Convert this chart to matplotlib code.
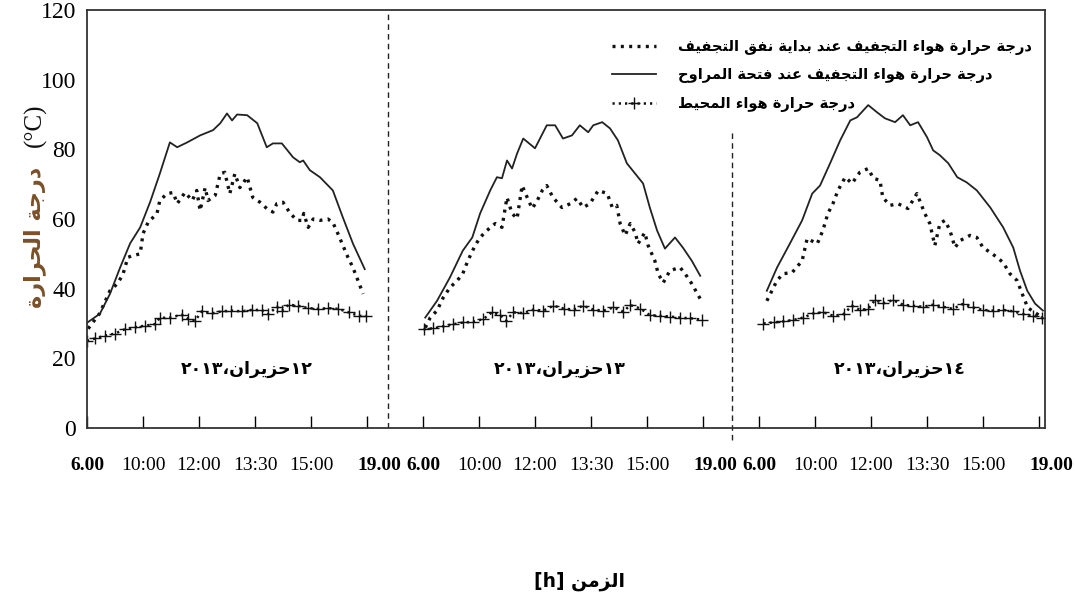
import matplotlib
matplotlib.use("Agg")
import matplotlib.pyplot as plt
import matplotlib.transforms as mtransforms
from matplotlib.font_manager import FontProperties

# ---- простой "решейпер" для арабского текста (matplotlib не соединяет буквы) ----
# буква: (изолированная, конечная, начальная, срединная)
FORMS = {
    'ء': (0xFE80, None, None, None),
    'ا': (0xFE8D, 0xFE8E, None, None),
    'ب': (0xFE8F, 0xFE90, 0xFE91, 0xFE92),
    'ة': (0xFE93, 0xFE94, None, None),
    'ت': (0xFE95, 0xFE96, 0xFE97, 0xFE98),
    'ج': (0xFE9D, 0xFE9E, 0xFE9F, 0xFEA0),
    'ح': (0xFEA1, 0xFEA2, 0xFEA3, 0xFEA4),
    'د': (0xFEA9, 0xFEAA, None, None),
    'ر': (0xFEAD, 0xFEAE, None, None),
    'ز': (0xFEAF, 0xFEB0, None, None),
    'ط': (0xFEC1, 0xFEC2, 0xFEC3, 0xFEC4),
    'ع': (0xFEC9, 0xFECA, 0xFECB, 0xFECC),
    'ف': (0xFED1, 0xFED2, 0xFED3, 0xFED4),
    'ق': (0xFED5, 0xFED6, 0xFED7, 0xFED8),
    'ل': (0xFEDD, 0xFEDE, 0xFEDF, 0xFEE0),
    'م': (0xFEE1, 0xFEE2, 0xFEE3, 0xFEE4),
    'ن': (0xFEE5, 0xFEE6, 0xFEE7, 0xFEE8),
    'ه': (0xFEE9, 0xFEEA, 0xFEEB, 0xFEEC),
    'و': (0xFEED, 0xFEEE, None, None),
    'ي': (0xFEF1, 0xFEF2, 0xFEF3, 0xFEF4),
}


def ar(s):
    out = []
    for i, c in enumerate(s):
        if c not in FORMS:
            out.append(c)
            continue
        f = FORMS[c]
        p = s[i - 1] if i > 0 else ''
        n = s[i + 1] if i + 1 < len(s) else ''
        prev_ok = p in FORMS and FORMS[p][2] is not None and f[1] is not None
        next_ok = n in FORMS and FORMS[n][1] is not None and f[2] is not None
        if prev_ok and next_ok:
            k = 3
        elif prev_ok:
            k = 1
        elif next_ok:
            k = 2
        else:
            k = 0
        out.append(chr(f[k]))
    return ''.join(out)[::-1]


# ---- данные (x — позиция на оси времени, 1 деление = один интервал подписи) ----
time_labels = ["6.00", "10:00", "12:00", "13:30", "15:00", "19.00"]
days = ["١٢", "١٣", "١٤"]

# 12 июня
d12_fan = [(0.0, 30.2), (0.23, 32.8), (0.41, 38.5), (0.59, 46.0), (0.77, 53.0), (0.95, 57.6),
           (1.13, 65.0), (1.30, 73.0), (1.48, 82.0), (1.61, 80.6), (1.79, 82.0), (2.02, 84.0),
           (2.25, 85.5), (2.38, 87.5), (2.50, 90.3), (2.59, 88.3), (2.68, 90.0), (2.86, 89.8),
           (3.04, 87.5), (3.21, 80.6), (3.32, 81.7), (3.48, 81.7), (3.68, 77.7), (3.80, 76.3),
           (3.86, 76.8), (3.98, 74.0), (4.16, 72.0), (4.39, 68.2), (4.57, 60.4), (4.75, 52.9),
           (4.96, 45.6)]
d12_inlet = [(0.02, 28.5), (0.23, 33.0), (0.41, 39.4), (0.54, 41.4), (0.64, 44.0), (0.73, 49.0),
             (0.82, 49.5), (0.95, 50.0), (1.00, 55.8), (1.09, 59.0), (1.25, 61.6), (1.30, 65.3),
             (1.43, 67.3), (1.54, 67.6), (1.61, 64.4), (1.75, 67.6), (1.88, 65.3), (1.96, 68.2),
             (2.02, 62.4), (2.11, 69.0), (2.16, 65.3), (2.29, 66.8), (2.38, 73.0), (2.46, 73.4),
             (2.55, 67.3), (2.64, 73.0), (2.73, 69.0), (2.86, 72.0), (2.96, 66.2), (3.09, 64.8),
             (3.21, 63.0), (3.32, 62.0), (3.39, 64.4), (3.50, 64.8), (3.63, 61.6), (3.75, 59.6),
             (3.84, 59.6), (3.87, 61.6), (3.95, 57.6), (4.04, 60.0), (4.16, 59.6), (4.30, 60.0),
             (4.39, 59.0), (4.48, 55.8), (4.57, 52.4), (4.66, 49.0), (4.75, 46.0), (4.84, 42.3),
             (4.93, 38.5)]
d12_amb = [(0.0, 25.0), (0.14, 25.7), (0.32, 26.5), (0.50, 27.1), (0.68, 28.4), (0.86, 28.9),
           (1.04, 29.4), (1.21, 29.8), (1.30, 31.6), (1.48, 31.7), (1.69, 32.5), (1.81, 31.3),
           (1.93, 30.8), (2.05, 33.5), (2.23, 32.9), (2.41, 33.5), (2.58, 33.7), (2.76, 33.5),
           (2.94, 33.9), (3.12, 33.9), (3.24, 32.7), (3.39, 34.8), (3.48, 33.7), (3.60, 35.4),
           (3.77, 35.1), (3.95, 34.4), (4.13, 34.2), (4.31, 34.4), (4.49, 34.2), (4.67, 33.2),
           (4.85, 32.2), (4.99, 32.2)]

# 13 июня
d13_fan = [(6.04, 31.7), (6.25, 36.5), (6.48, 43.2), (6.71, 50.9), (6.88, 54.7), (7.02, 61.6),
           (7.20, 68.2), (7.32, 72.0), (7.41, 71.7), (7.50, 76.8), (7.59, 74.5), (7.68, 78.8),
           (7.79, 83.1), (8.00, 80.3), (8.21, 86.9), (8.36, 86.9), (8.50, 83.1), (8.66, 84.0),
           (8.80, 86.9), (8.95, 84.9), (9.04, 86.9), (9.20, 87.8), (9.34, 86.0), (9.48, 82.6),
           (9.64, 76.0), (9.79, 73.0), (9.93, 70.2), (10.05, 63.3), (10.18, 56.7), (10.32, 51.5),
           (10.50, 54.7), (10.64, 51.8), (10.80, 48.0), (10.95, 43.7)]
d13_inlet = [(6.04, 28.8), (6.13, 31.7), (6.25, 33.7), (6.36, 37.4), (6.48, 40.3), (6.61, 42.3),
             (6.71, 44.3), (6.80, 48.0), (6.93, 52.4), (7.02, 54.7), (7.14, 56.7), (7.29, 58.7),
             (7.41, 57.6), (7.50, 66.2), (7.59, 61.6), (7.68, 60.1), (7.77, 69.6), (7.86, 66.2),
             (7.95, 63.0), (8.04, 65.3), (8.13, 68.2), (8.21, 69.6), (8.32, 66.2), (8.48, 63.3),
             (8.63, 64.4), (8.75, 65.9), (8.86, 63.3), (8.98, 64.4), (9.13, 68.2), (9.29, 67.3),
             (9.38, 63.3), (9.46, 63.9), (9.52, 58.7), (9.61, 55.3), (9.70, 58.7), (9.79, 56.1),
             (9.84, 52.9), (9.96, 56.1), (10.02, 52.4), (10.14, 48.0), (10.20, 44.3), (10.29, 41.7),
             (10.41, 45.2), (10.59, 46.1), (10.68, 44.3), (10.80, 41.4), (10.95, 37.1)]
d13_amb = [(6.01, 28.4), (6.18, 28.6), (6.36, 29.2), (6.54, 29.8), (6.72, 30.3), (6.90, 30.5),
           (7.08, 31.3), (7.23, 33.2), (7.38, 32.4), (7.49, 30.8), (7.61, 33.2), (7.79, 33.0),
           (7.97, 34.0), (8.15, 33.7), (8.33, 35.1), (8.51, 34.3), (8.69, 34.0), (8.86, 35.1),
           (9.04, 34.0), (9.22, 33.7), (9.40, 34.6), (9.58, 33.4), (9.70, 35.3), (9.88, 34.3),
           (10.05, 32.4), (10.23, 32.2), (10.41, 32.0), (10.59, 31.7), (10.77, 31.5), (10.98, 31.1)]

# 14 июня
d14_fan = [(12.14, 39.4), (12.32, 46.0), (12.55, 52.9), (12.77, 59.6), (12.95, 67.3), (13.09, 69.6),
           (13.27, 76.0), (13.45, 82.6), (13.63, 88.3), (13.75, 89.2), (13.95, 92.7), (14.11, 90.6),
           (14.25, 88.9), (14.43, 87.8), (14.57, 89.8), (14.70, 86.9), (14.84, 87.8), (15.00, 83.5),
           (15.11, 79.7), (15.23, 78.3), (15.38, 76.0), (15.54, 72.0), (15.71, 70.5), (15.89, 68.2),
           (16.13, 63.3), (16.36, 57.6), (16.54, 51.8), (16.66, 45.2), (16.79, 39.4), (16.93, 35.7),
           (17.07, 33.7)]
d14_inlet = [(12.14, 36.5), (12.23, 39.4), (12.32, 42.3), (12.43, 44.3), (12.59, 44.6), (12.77, 48.0),
             (12.86, 54.4), (13.04, 52.9), (13.14, 56.7), (13.23, 61.6), (13.32, 64.4), (13.41, 68.2),
             (13.54, 72.0), (13.66, 70.2), (13.80, 73.4), (13.95, 74.5), (14.04, 71.7), (14.16, 71.1),
             (14.21, 66.2), (14.34, 63.9), (14.48, 64.4), (14.66, 63.0), (14.82, 67.3), (14.96, 61.6),
             (15.05, 58.7), (15.14, 52.4), (15.23, 58.7), (15.32, 59.6), (15.41, 56.7), (15.50, 51.8),
             (15.59, 53.8), (15.77, 55.3), (15.89, 54.7), (16.00, 51.8), (16.13, 50.4), (16.25, 49.0),
             (16.36, 47.5), (16.48, 44.3), (16.61, 42.3), (16.70, 38.5), (16.80, 34.5), (16.96, 32.8),
             (17.07, 31.4)]
d14_amb = [(12.08, 30.0), (12.26, 30.3), (12.43, 30.6), (12.61, 31.0), (12.79, 31.7), (12.97, 32.9),
           (13.15, 33.2), (13.33, 32.2), (13.51, 32.7), (13.66, 35.1), (13.80, 33.9), (13.95, 34.2),
           (14.07, 36.7), (14.22, 35.8), (14.39, 36.7), (14.57, 35.4), (14.75, 35.1), (14.93, 34.8),
           (15.11, 35.4), (15.29, 34.8), (15.46, 34.2), (15.64, 35.6), (15.82, 34.6), (16.00, 33.9),
           (16.18, 33.7), (16.36, 33.9), (16.54, 33.5), (16.72, 32.7), (16.90, 32.2), (17.05, 31.7)]

inlet_series = [d12_inlet, d13_inlet, d14_inlet]
fan_series = [d12_fan, d13_fan, d14_fan]
amb_series = [d12_amb, d13_amb, d14_amb]

leg_inlet = "درجة حرارة هواء التجفيف عند بداية نفق التجفيف"
leg_fan = "درجة حرارة هواء التجفيف عند فتحة المراوح"
leg_amb = "درجة حرارة هواء المحيط"

# ---- рисунок ----
W, H = 1075, 599
fig = plt.figure(figsize=(W / 100, H / 100), dpi=100)
ax = fig.add_axes([87 / W, 1 - 428 / H, (1045 - 87) / W, (428 - 10) / H])

dots = (0, (0.9, 1.6))
h_in = h_fan = h_amb = None
for inl, fan, amb in zip(inlet_series, fan_series, amb_series):
    x, y = zip(*inl)
    h_in, = ax.plot(x, y, color='#111111', lw=2.4, ls=dots)
    x, y = zip(*fan)
    h_fan, = ax.plot(x, y, color='#222222', lw=1.3)
    x, y = zip(*amb)
    h_amb, = ax.plot(x, y, color='#111111', lw=1.8, ls=dots, marker='+', ms=8, mew=1.0)

# разделители дней
ax.axvline(5.375, color='#222222', lw=1.0, ls=(0, (4, 3)))
ax.plot([11.52, 11.52], [84.6, -3.7], color='#222222', lw=1.0, ls=(0, (4, 3)), clip_on=False)

# подписи дат
date_x = [2.86, 8.45, 14.52]
for d, xx in zip(days, date_x):
    ax.text(xx, 17, "٢٠١٣" + "،" + ar("حزيران") + d, ha='center', va='center',
            fontsize=12.5, fontweight='bold', family='DejaVu Sans')

ax.set_xlim(0, 17.107)
ax.set_ylim(0, 120)
ax.set_xticks(range(18))
ax.set_xticklabels(time_labels * 3, family='Liberation Serif', fontsize=14)
ax.set_yticks(range(0, 121, 20))
ax.set_yticklabels([str(v) for v in range(0, 121, 20)], family='Liberation Serif', fontsize=17)
ax.tick_params(axis='x', direction='in', length=9, width=1.0, pad=21, top=False)
ax.tick_params(axis='y', length=0, pad=8)
shift = mtransforms.ScaledTranslation(9 / 72, 0, fig.dpi_scale_trans)
for lab in ax.get_xticklabels():
    if lab.get_text() in ("6.00", "19.00"):
        lab.set_fontweight('bold')
    if lab.get_text() == "19.00":
        lab.set_transform(lab.get_transform() + shift)
for sp in ax.spines.values():
    sp.set_color('#333333')
    sp.set_linewidth(1.3)

# легенда
ax.legend([h_in, h_fan, h_amb], [ar(leg_inlet), ar(leg_fan), ar(leg_amb)],
          loc='upper left', bbox_to_anchor=(612 / W, 1 - 39 / H), bbox_transform=fig.transFigure,
          frameon=False, prop=FontProperties(family='DejaVu Sans', weight='bold', size=10.5),
          handlelength=3.0, handletextpad=1.5, labelspacing=0.85, borderpad=0, borderaxespad=0,
          numpoints=1)

# подписи осей
fig.text(35 / W, 1 - 237 / H, ar("درجة الحرارة"), rotation=90, ha='center', va='center',
         fontsize=16, fontweight='bold', family='DejaVu Sans', color='#7a5028')
fig.text(35 / W, 1 - 125 / H, "(°C)", rotation=90, ha='center', va='center',
         fontsize=18, family='Liberation Serif', color='#111111')
fig.text(580 / W, 1 - 581 / H, "[h] " + ar("الزمن"), ha='center', va='center',
         fontsize=13.5, fontweight='bold', family='DejaVu Sans')

fig.savefig("out.png", dpi=100)
